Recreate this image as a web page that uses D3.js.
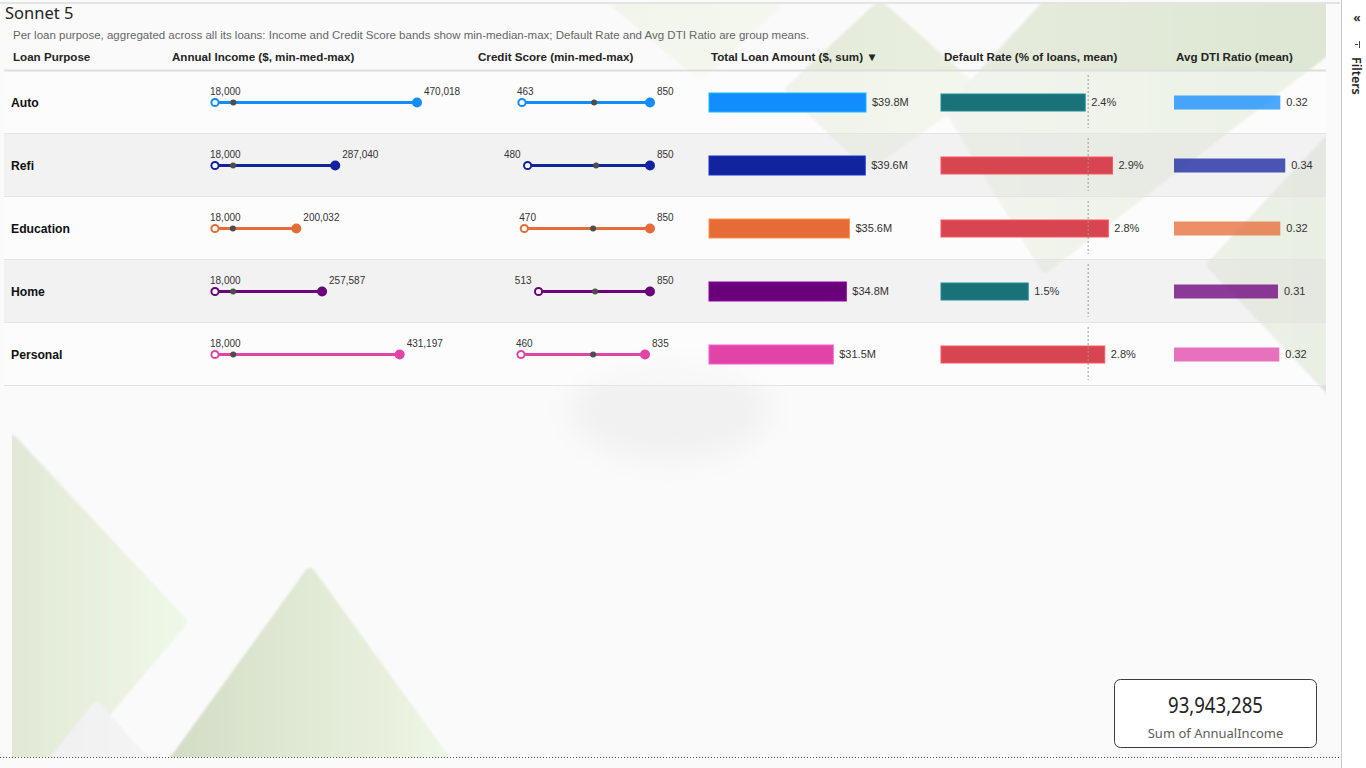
<!DOCTYPE html>
<html>
<head>
<meta charset="utf-8">
<script src="https://cdn.jsdelivr.net/npm/d3@7"></script>
<style>
  body { margin: 0; background: #fff; overflow: hidden; }
  svg { display: block; }
</style>
</head>
<body>
<svg id="chart" width="1366" height="768"></svg>
<script>
// ---- data ----
const purposes = ["Auto", "Refi", "Education", "Home", "Personal"];
const incomeMin = [18000, 18000, 18000, 18000, 18000];
const incomeMed = [59000, 58500, 58000, 58500, 58800];
const incomeMax = [470018, 287040, 200032, 257587, 431197];
const creditMin = [463, 480, 470, 513, 460];
const creditMed = [681, 687, 678, 684, 678];
const creditMax = [850, 850, 850, 850, 835];
const loanTotal = [39.8e6, 39.6e6, 35.6e6, 34.8e6, 31.5e6];
const defaultRate = [2.43, 2.89, 2.82, 1.47, 2.76];
const defaultMean = 2.48;
const dtiMean = [0.321, 0.336, 0.321, 0.314, 0.318];
const purposeColors = ["#118DFF", "#12239E", "#E66C37", "#6B007B", "#E044A7"];
const headers = ["Loan Purpose", "Annual Income ($, min-med-max)", "Credit Score (min-med-max)",
                 "Total Loan Amount ($, sum) \u25BC", "Default Rate (% of loans, mean)", "Avg DTI Ratio (mean)"];
const cardValue = 93943285;
const cardLabel = "Sum of AnnualIncome";

const rows = purposes.map((p, i) => ({
  p, i, color: purposeColors[i],
  inc: [incomeMin[i], incomeMed[i], incomeMax[i]],
  cs: [creditMin[i], creditMed[i], creditMax[i]],
  loan: loanTotal[i], def: defaultRate[i], dti: dtiMean[i]
}));

const svg = d3.select("#chart");
const font = "Arial, 'Liberation Sans', sans-serif";
const uiFont = "'Segoe UI', 'Noto Sans', 'Open Sans', sans-serif";

// ---- page background with soft green shapes ----
svg.append("rect").attr("width", 1366).attr("height", 768).attr("fill", "#fafafa");
const defs = svg.append("defs");
defs.append("clipPath").attr("id", "page").append("rect")
  .attr("x", 12).attr("y", 4).attr("width", 1314).attr("height", 753);
defs.append("filter").attr("id", "soft").append("feGaussianBlur").attr("stdDeviation", 1.2);
defs.append("filter").attr("id", "blob").attr("x", "-50%").attr("y", "-50%").attr("width", "200%").attr("height", "200%")
  .append("feGaussianBlur").attr("stdDeviation", 14);

const bgShapes = [
  {pts: [[12, 440], [182, 622], [40, 790], [12, 790]], c0: "#e1e9d6", c1: "#eff7e7"},
  {pts: [[310, 573], [160, 780], [460, 780]], c0: "#d2dcc4", c1: "#eff7e6"},
  {pts: [[97, 707], [30, 790], [170, 790]], c0: "#f0f0f0", c1: "#f5f5f5"},
  {pts: [[600, -10], [790, -10], [700, 75]], c0: "#f1f5ea", c1: "#f4f8ef"},
  {pts: [[880, 6], [975, 90], [868, 165], [790, 90]], c0: "#e3ead9", c1: "#e9f0e0"},
  {pts: [[950, 110], [1060, -10], [1340, -10], [1340, 40], [1045, 268]], c0: "#e6ecde", c1: "#dde6d2"},
  {pts: [[1212, 265], [1340, 128], [1340, 400]], c0: "#dce5d1", c1: "#d7e1cb"}
];
const bg = svg.append("g").attr("clip-path", "url(#page)");
bg.append("ellipse").attr("cx", 670).attr("cy", 410).attr("rx", 100).attr("ry", 50)
  .attr("fill", "#f1f1f1").attr("filter", "url(#blob)");
bgShapes.forEach((s, k) => {
  const g = defs.append("linearGradient").attr("id", "g" + k);
  g.append("stop").attr("offset", "0%").attr("stop-color", s.c0);
  g.append("stop").attr("offset", "100%").attr("stop-color", s.c1);
  bg.append("polygon")
    .attr("points", s.pts.map(p => p.join(",")).join(" "))
    .attr("fill", `url(#g${k})`)
    .attr("stroke", `url(#g${k})`).attr("stroke-width", 10).attr("stroke-linejoin", "round")
    .attr("filter", "url(#soft)");
});

// top container edge
svg.append("line").attr("x1", 0).attr("x2", 1340).attr("y1", 3).attr("y2", 3)
  .attr("stroke", "#e4e4e4").attr("stroke-width", 2);

// ---- title ----
svg.append("text").attr("x", 5).attr("y", 19).text("Sonnet 5")
  .attr("font-family", uiFont).attr("font-size", 16.5).attr("fill", "#252423");
svg.append("text").attr("x", 13).attr("y", 39)
  .text("Per loan purpose, aggregated across all its loans: Income and Credit Score bands show min-median-max; Default Rate and Avg DTI Ratio are group means.")
  .attr("font-family", font).attr("font-size", 11.5).attr("fill", "#666");

// ---- table ----
const left = 4, right = 1326;
const y = d3.scaleBand().domain(purposes).range([71, 386]);
const bw = y.bandwidth();

const headerX = [13, 172, 478, 711, 944, 1176];
svg.append("g").selectAll("text").data(headers).join("text")
  .attr("x", (d, i) => headerX[i]).attr("y", 61).text(d => d)
  .attr("font-family", font).attr("font-size", 11.6).attr("font-weight", "bold").attr("fill", "#252423");

const rowG = svg.append("g").selectAll("g").data(rows).join("g")
  .attr("transform", d => `translate(0,${y(d.p)})`);

rowG.append("rect").attr("x", left).attr("width", right - left).attr("height", bw)
  .attr("fill", d => d.i % 2 ? "#ececec" : "#ffffff")
  .attr("fill-opacity", d => d.i % 2 ? 0.6 : 0.45);
rowG.append("line").attr("x1", left).attr("x2", right).attr("y1", bw - 0.5).attr("y2", bw - 0.5)
  .attr("stroke", "#e4e4e4");
svg.append("line").attr("x1", left).attr("x2", right).attr("y1", 70.5).attr("y2", 70.5)
  .attr("stroke", "#dedede").attr("stroke-width", 2);

const cy = bw / 2;
rowG.append("text").attr("x", 11).attr("y", cy).attr("dy", "0.35em").text(d => d.p)
  .attr("font-family", font).attr("font-size", 12.2).attr("font-weight", "bold").attr("fill", "#111");

// dumbbells
const xInc = d3.scaleLinear().domain([d3.min(incomeMin), d3.max(incomeMax)]).range([215, 417]);
const xCs = d3.scaleLinear().domain([d3.min(creditMin), d3.max(creditMax)]).range([521, 650]);
const fmt = d3.format(",");

function dumbbell(key, x) {
  const g = rowG.append("g");
  const x0 = x.range()[0];
  g.append("line").attr("x1", d => x(d[key][0])).attr("x2", d => x(d[key][2]))
    .attr("y1", cy).attr("y2", cy).attr("stroke", d => d.color).attr("stroke-width", 3);
  g.append("circle").attr("cx", d => x(d[key][0])).attr("cy", cy).attr("r", 3.6)
    .attr("fill", "#fff").attr("stroke", d => d.color).attr("stroke-width", 2);
  g.append("circle").attr("cx", d => x(d[key][1])).attr("cy", cy).attr("r", 3)
    .attr("fill", "#4d4d4d");
  g.append("circle").attr("cx", d => x(d[key][2])).attr("cy", cy).attr("r", 5)
    .attr("fill", d => d.color);
  // min label sits left of the dot when there is room, else starts just before it
  g.append("text")
    .attr("x", d => x(d[key][0]) - x0 > 5 ? x(d[key][0]) - 7 : x(d[key][0]) - 5)
    .attr("text-anchor", d => x(d[key][0]) - x0 > 5 ? "end" : "start")
    .attr("y", cy - 8).text(d => fmt(d[key][0]))
    .attr("font-family", font).attr("font-size", 10).attr("fill", "#333");
  g.append("text").attr("x", d => x(d[key][2]) + 7).attr("y", cy - 8).text(d => fmt(d[key][2]))
    .attr("font-family", font).attr("font-size", 10).attr("fill", "#333");
}
dumbbell("inc", xInc);
dumbbell("cs", xCs);

// total loan bars
const xLoan = d3.scaleLinear().domain([0, d3.max(loanTotal)]).range([0, 157]);
const loanX0 = 709;
rowG.append("rect").attr("x", loanX0).attr("y", cy - 9.5).attr("height", 19)
  .attr("width", d => xLoan(d.loan)).attr("fill", d => d.color)
  .attr("stroke", d => d3.color(d.color).brighter(0.8)).attr("stroke-width", 1);
rowG.append("text").attr("x", d => loanX0 + xLoan(d.loan) + 6).attr("y", cy).attr("dy", "0.35em")
  .text(d => "$" + (d.loan / 1e6).toFixed(1) + "M")
  .attr("font-family", font).attr("font-size", 11).attr("fill", "#333");

// default rate bars with group-mean reference
const xDef = d3.scaleLinear().domain([0, 3]).range([0, 178]);
const defX0 = 941;
rowG.append("rect").attr("x", defX0).attr("y", cy - 8.5).attr("height", 17)
  .attr("width", d => xDef(d.def))
  .attr("fill", d => d.def > defaultMean ? "#D64550" : "#197278")
  .attr("stroke", d => d3.color(d.def > defaultMean ? "#D64550" : "#197278").brighter(0.6))
  .attr("stroke-width", 1);
rowG.append("line").attr("x1", defX0 + xDef(defaultMean)).attr("x2", defX0 + xDef(defaultMean))
  .attr("y1", 4).attr("y2", bw - 6).attr("stroke", "#9a9a9a").attr("stroke-dasharray", "2,2");
rowG.append("text").attr("x", d => defX0 + xDef(d.def) + 6).attr("y", cy).attr("dy", "0.35em")
  .text(d => d.def.toFixed(1) + "%")
  .attr("font-family", font).attr("font-size", 11).attr("fill", "#333");

// DTI bars
const xDti = d3.scaleLinear().domain([0, 0.35]).range([0, 115.9]);
const dtiX0 = 1174;
rowG.append("rect").attr("x", dtiX0).attr("y", cy - 7).attr("height", 14)
  .attr("width", d => xDti(d.dti)).attr("fill", d => d.color).attr("fill-opacity", 0.76);
rowG.append("text").attr("x", d => dtiX0 + xDti(d.dti) + 6).attr("y", cy).attr("dy", "0.35em")
  .text(d => d.dti.toFixed(2))
  .attr("font-family", font).attr("font-size", 11).attr("fill", "#333");

// ---- card ----
svg.append("rect").attr("x", 1114.5).attr("y", 679.5).attr("width", 202).attr("height", 68).attr("rx", 6)
  .attr("fill", "#fff").attr("stroke", "#3c3c3c");
svg.append("text").attr("x", 1215.5).attr("y", 713).attr("text-anchor", "middle")
  .text(fmt(cardValue)).attr("font-family", uiFont).attr("font-size", 21).attr("fill", "#252423")
  .attr("textLength", 95).attr("lengthAdjust", "spacingAndGlyphs");
svg.append("text").attr("x", 1215.5).attr("y", 738).attr("text-anchor", "middle")
  .text(cardLabel).attr("font-family", uiFont).attr("font-size", 13).attr("fill", "#605e5c");

// bottom dotted page edge
svg.append("line").attr("x1", 0).attr("x2", 1340).attr("y1", 757.5).attr("y2", 757.5)
  .attr("stroke", "#555").attr("stroke-dasharray", "1,2");

// ---- filters pane ----
svg.append("rect").attr("x", 1341).attr("width", 25).attr("height", 768).attr("fill", "#fff");
svg.append("line").attr("x1", 1341.5).attr("x2", 1341.5).attr("y1", 0).attr("y2", 768)
  .attr("stroke", "#c8c8c8");
svg.append("text").attr("x", 1357).attr("y", 22).attr("text-anchor", "middle").text("\u00AB")
  .attr("font-family", uiFont).attr("font-size", 12).attr("font-weight", "bold").attr("fill", "#333");
svg.append("path").attr("d", "M1355,44.5h3M1359.5,41v7").attr("stroke", "#444").attr("stroke-width", 1);
svg.append("text").attr("transform", "translate(1352,57) rotate(90)").text("Filters")
  .attr("font-family", uiFont).attr("font-size", 12.5).attr("font-weight", 600).attr("fill", "#252423");
</script>
</body>
</html>
